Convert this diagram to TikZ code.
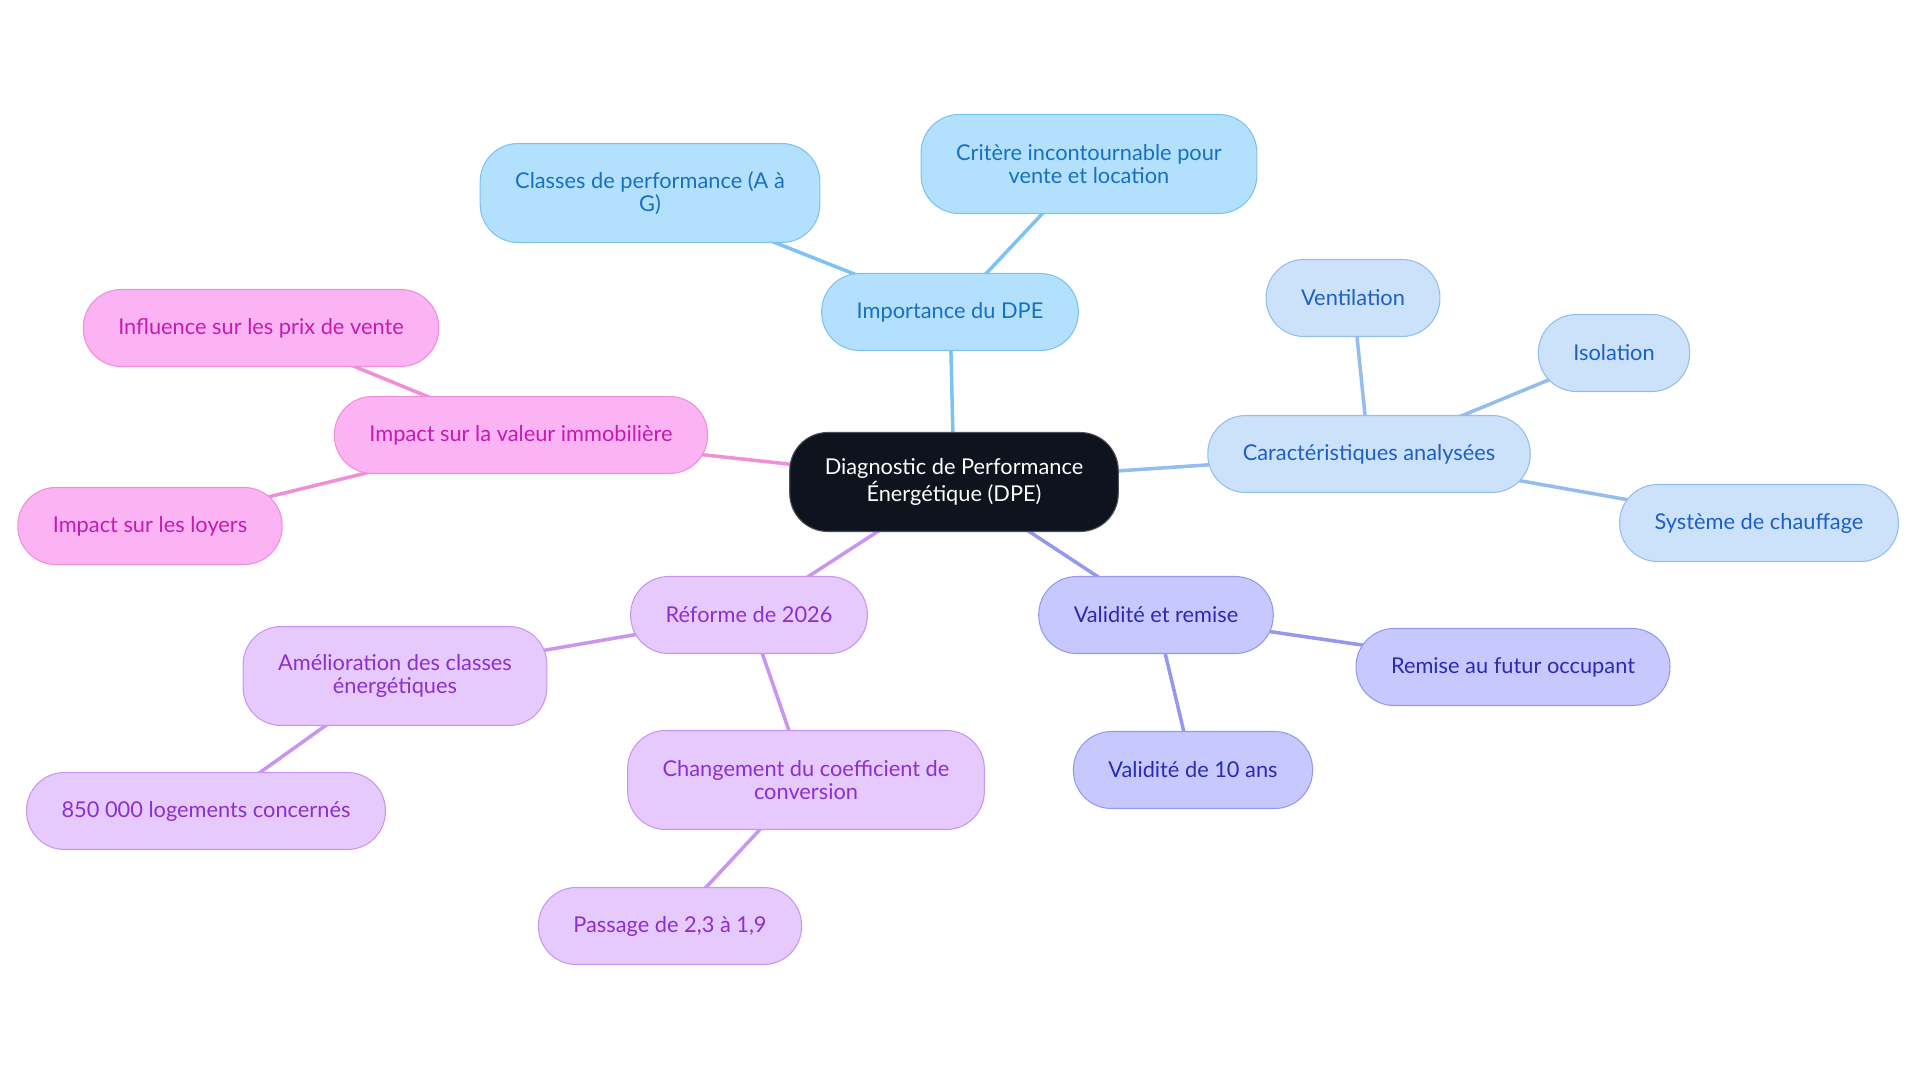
\documentclass[tikz,border=0pt]{standalone}
\usepackage{fontspec}
\setmainfont{Lato}
\usetikzlibrary{backgrounds}

\definecolor{rootfill}{HTML}{0E131D}
\definecolor{rootline}{HTML}{4A4F58}
\definecolor{skyfill}{HTML}{B3E0FD}
\definecolor{skyline}{HTML}{7CC2F2}
\definecolor{skytext}{HTML}{1870C2}
\definecolor{icefill}{HTML}{CCE2FA}
\definecolor{iceline}{HTML}{93BDEE}
\definecolor{icetext}{HTML}{1D5FC6}
\definecolor{lavfill}{HTML}{C7C8FD}
\definecolor{lavline}{HTML}{9598F1}
\definecolor{lavtext}{HTML}{2A2BB5}
\definecolor{lilacfill}{HTML}{E6C9FD}
\definecolor{lilacline}{HTML}{C895F3}
\definecolor{lilactext}{HTML}{8B2FD0}
\definecolor{pinkfill}{HTML}{FCB3F3}
\definecolor{pinkline}{HTML}{F08ED8}
\definecolor{pinktext}{HTML}{C41BB0}

\tikzset{
    every picture/.style={line width=0.3pt},
    mmnode/.style={rounded corners=0.38cm, inner xsep=0.35cm, inner ysep=0pt,
        minimum height=0.77cm, align=center, font=\fontsize{6.2}{6.5}\selectfont},
    rootnode/.style={mmnode, fill=rootfill, draw=rootline, text=white, minimum height=0.99cm},
    skynode/.style={mmnode, fill=skyfill, draw=skyline, text=skytext},
    icenode/.style={mmnode, fill=icefill, draw=iceline, text=icetext},
    lavnode/.style={mmnode, fill=lavfill, draw=lavline, text=lavtext},
    lilacnode/.style={mmnode, fill=lilacfill, draw=lilacline, text=lilactext},
    pinknode/.style={mmnode, fill=pinkfill, draw=pinkline, text=pinktext},
    tall/.style={minimum height=0.99cm},
    mmedge/.style={line width=1pt, color=#1},
}

\begin{document}
\begin{tikzpicture}
    \useasboundingbox (0,0) rectangle (19.2,-10.83);
    \node[rootnode] (dpe) at (9.54,-4.82) {Diagnostic de Performance\\Énergétique (DPE)};
    \node[skynode] (importance) at (9.50,-3.12) {Importance du DPE};
    \node[skynode, tall] (classes) at (6.50,-1.93) {Classes de performance (A à\\G)};
    \node[skynode, tall] (critere) at (10.89,-1.64) {Critère incontournable pour\\vente et location};
    \node[icenode] (caract) at (13.69,-4.54) {Caractéristiques analysées};
    \node[icenode] (ventil) at (13.53,-2.98) {Ventilation};
    \node[icenode] (isol) at (16.14,-3.53) {Isolation};
    \node[icenode] (chauff) at (17.59,-5.23) {Système de chauffage};
    \node[lavnode] (validite) at (11.56,-6.15) {Validité et remise};
    \node[lavnode] (remise) at (15.13,-6.67) {Remise au futur occupant};
    \node[lavnode] (dixans) at (11.93,-7.70) {Validité de 10 ans};
    \node[lilacnode] (reforme) at (7.49,-6.15) {Réforme de 2026};
    \node[lilacnode, tall] (amelio) at (3.95,-6.76) {Amélioration des classes\\énergétiques};
    \node[lilacnode] (logements) at (2.06,-8.11) {850 000 logements concernés};
    \node[lilacnode, tall] (coeff) at (8.06,-7.80) {Changement du coefficient de\\conversion};
    \node[lilacnode] (passage) at (6.70,-9.26) {Passage de 2,3 à 1,9};
    \node[pinknode] (valeur) at (5.21,-4.35) {Impact sur la valeur immobilière};
    \node[pinknode] (prix) at (2.61,-3.28) {Influence sur les prix de vente};
    \node[pinknode] (loyers) at (1.50,-5.26) {Impact sur les loyers};
    \begin{scope}[on background layer]
        \draw[mmedge=skyline] (dpe.center) -- (importance.center);
        \draw[mmedge=skyline] (importance.center) -- (classes.center);
        \draw[mmedge=skyline] (importance.center) -- (critere.center);
        \draw[mmedge=iceline] (dpe.center) -- (caract.center);
        \draw[mmedge=iceline] (caract.center) -- (ventil.center);
        \draw[mmedge=iceline] (caract.center) -- (isol.center);
        \draw[mmedge=iceline] (caract.center) -- (chauff.center);
        \draw[mmedge=lavline] (dpe.center) -- (validite.center);
        \draw[mmedge=lavline] (validite.center) -- (remise.center);
        \draw[mmedge=lavline] (validite.center) -- (dixans.center);
        \draw[mmedge=lilacline] (dpe.center) -- (reforme.center);
        \draw[mmedge=lilacline] (reforme.center) -- (amelio.center);
        \draw[mmedge=lilacline] (amelio.center) -- (logements.center);
        \draw[mmedge=lilacline] (reforme.center) -- (coeff.center);
        \draw[mmedge=lilacline] (coeff.center) -- (passage.center);
        \draw[mmedge=pinkline] (dpe.center) -- (valeur.center);
        \draw[mmedge=pinkline] (valeur.center) -- (prix.center);
        \draw[mmedge=pinkline] (valeur.center) -- (loyers.center);
    \end{scope}
\end{tikzpicture}
\end{document}
